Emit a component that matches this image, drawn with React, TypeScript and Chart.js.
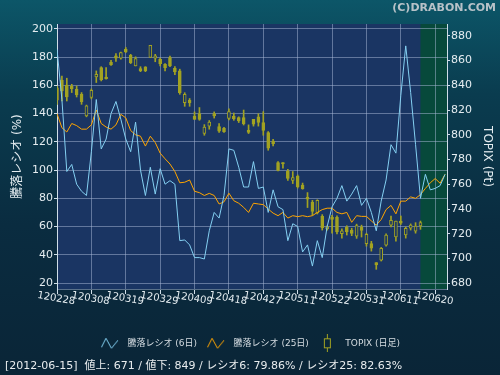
import React, { useEffect, useRef } from "react";
import { Chart, registerables } from "chart.js";
Chart.register(...registerables);

// ---- data ----
const dateLabels = ["120228", "120308", "120319", "120329", "120409", "120418", "120427", "120511", "120522", "120531", "120611", "120620"];
const labelStep = 7;
const forecastStart = 74;
const leftTicks = [20, 40, 60, 80, 100, 120, 140, 160, 180, 200];
const rightTicks = [680, 700, 720, 740, 760, 780, 800, 820, 840, 860, 880];

const ratio6 = [185.6, 150, 99, 104, 90, 85, 82, 113, 150, 115,
  122, 140, 148.6, 136, 122, 113, 134, 100, 82, 102,
  83, 101, 90, 92.5, 90, 50, 50.5, 47, 38, 38,
  37, 57, 70, 66, 82, 115, 114, 102, 88, 88,
  106, 87, 88, 70, 86, 74, 72, 50, 62, 60,
  42, 47, 32, 50, 38, 60, 74, 80, 89, 78,
  83, 89, 75, 80, 70, 57, 78, 93, 118, 112,
  153, 188, 155, 118, 80, 97, 86, 87, 89, 97];

const ratio25 = [140, 130, 127, 133, 131.5, 129, 129, 132, 142.6, 133,
  130.5, 129, 132, 139.5, 137, 128, 125, 124, 117, 124,
  119.5, 112, 108, 104.3, 99, 91, 91.4, 93, 85, 84,
  82, 83.5, 82, 76, 77.5, 83.6, 78.3, 76.5, 73.6, 70,
  76.5, 76, 75.5, 72.4, 69.5, 67.7, 70, 66, 67.7, 67,
  67.7, 67, 67.7, 70, 72, 73, 73, 70, 69, 70,
  63, 67.7, 67.2, 67.2, 64, 61, 65, 72, 75, 69,
  78, 78, 81, 80, 82.6, 87, 91, 94, 90.7, 97];

const topixOpen = [838, 844, 840.2, 839.4, 836.8, 832.7, 815.2, 830.1, 846.7, 854.3,
  846.7, 858.6, 863.7, 861.8, 869.1, 864.2, 855.6, 853.5, 854.8, 862.4,
  861.8, 861, 857, 862.4, 853.7, 851.6, 826, 828, 815.2, 817.1,
  801, 806.9, 817.1, 806.6, 805.3, 813.3, 815, 813.9, 813.9, 803.6,
  812.5, 814.4, 809.9, 801.8, 795, 777.5, 777.5, 770.7, 763.2, 766.7,
  759.4, 749.7, 745.5, 736.8, 734.2, 724, 733.6, 733.3, 720.2, 725.5,
  723, 718.1, 725.5, 712.1, 712.1, 696.7, 698.6, 710.9, 727, 717.4,
  730.3, 719, 724.6, 722.2, 726.3];
const topixClose = [828, 835.4, 830.5, 837.3, 832.2, 826.8, 823.3, 836, 848.9, 844.3,
  845.4, 856.4, 861.8, 866.4, 866.9, 858.3, 861.6, 851.6, 851.6, 872.3,
  863.7, 857.5, 854.3, 855.6, 850.7, 834.1, 832.7, 825.7, 812.5, 812.5,
  806.3, 810.3, 815.2, 803, 802.6, 818.7, 812.8, 811.1, 809, 802,
  808.5, 809.9, 803.6, 789.1, 792.9, 771.3, 776.5, 764.8, 765.4, 757.8,
  756.5, 747.9, 738, 747, 725, 725.8, 731.6, 721.5, 722.3, 721.7,
  720.4, 726.6, 722.8, 719.6, 708.3, 694.8, 708.3, 719, 730.9, 730.3,
  728.5, 724.4, 727, 726.3, 729];
const topixHigh = [839.4, 847.5, 845.7, 840.8, 839.4, 834.1, 824, 837, 851.6, 855,
  854.3, 860.2, 865.6, 866.8, 870.5, 865, 863, 855, 855, 872.3,
  865, 862, 857.5, 863.5, 855, 853, 834, 829.3, 818.5, 822,
  808.2, 811.5, 818.5, 809, 806, 821, 817.6, 814.5, 820, 808,
  812.5, 817, 818.7, 802.6, 796.4, 778.3, 777.5, 772, 770.3, 767.5,
  761, 753.3, 747, 747.5, 735.5, 726.5, 735, 734.5, 724, 726.5,
  724.5, 727.8, 727, 720.5, 713.9, 696.7, 709, 720, 734.4, 730.3,
  734.4, 725.5, 728, 729, 730.3];
const topixLow = [824.6, 827.3, 827.3, 834.1, 830.5, 824.6, 814.5, 829, 842.2, 843.5,
  845, 856, 859.2, 861, 866.4, 857.5, 855.6, 851, 851, 862.4,
  859, 855.6, 851.6, 855, 848.5, 832.7, 823, 823, 812.5, 811.7,
  799.6, 804.5, 813.5, 802, 802, 812, 811.7, 809.9, 807.9, 801,
  807, 807, 799.6, 787.5, 791, 770.7, 773, 763.2, 760.6, 757,
  756, 741.2, 735, 736, 723, 723, 720.5, 720, 716.5, 719,
  718.5, 716.3, 717.4, 710, 706, 691.3, 698, 710, 725.5, 714,
  727.5, 716.5, 723, 720.5, 723.6];

const footerDate = "2012-06-15";
const footerUp = 671;
const footerDown = 849;
const footerR6 = "79.86";
const footerR25 = "82.63";

// ---- style ----
const FONT = '"DejaVu Sans", "Noto Sans CJK JP", sans-serif';
const PLOT_BG = "#1a3563";
const GREEN_BG = "#07493b";
const GRID = "rgba(170,185,215,0.5)";
const AXIS = "#d0dee8";
const TEXT = "#e4ecf0";
const CANDLE = "#a2a222";
const BLUE = "#84d0f2";
const ORANGE = "#ffa500";

function makeZigzag(color: string) {
  const c = document.createElement("canvas");
  c.width = 22; c.height = 14;
  const g = c.getContext("2d")!;
  g.strokeStyle = color; g.lineWidth = 1;
  g.beginPath();
  g.moveTo(0.5, 11); g.lineTo(5, 2); g.lineTo(10.5, 12); g.lineTo(17, 4);
  g.stroke();
  return c;
}
function makeCandleIcon() {
  const c = document.createElement("canvas");
  c.width = 22; c.height = 18;
  const g = c.getContext("2d")!;
  g.strokeStyle = CANDLE; g.lineWidth = 1;
  g.beginPath(); g.moveTo(8.5, 0); g.lineTo(8.5, 18); g.stroke();
  g.fillStyle = "#0a2739";
  g.fillRect(5.5, 4.5, 6, 9);
  g.strokeRect(5.5, 4.5, 6, 9);
  return c;
}

export default function App() {
  const ref = useRef<HTMLCanvasElement>(null);
  useEffect(() => {
    document.body.style.margin = "0";
    const xs = ratio6.map((_, i) => i);
    const tickIdx = dateLabels.map((_, i) => i * labelStep);
    const icon6 = makeZigzag(BLUE);
    const icon25 = makeZigzag(ORANGE);
    const iconC = makeCandleIcon();

    const bgPlugin = {
      id: "bgPlugin",
      beforeDraw(chart: any) {
        const { ctx, chartArea: a, scales } = chart;
        ctx.save();
        const grd = ctx.createLinearGradient(0, 0, 0, chart.height);
        grd.addColorStop(0, "#0c5668");
        grd.addColorStop(0.25, "#0a3c4f");
        grd.addColorStop(0.6, "#0a2c40");
        grd.addColorStop(1, "#0a2537");
        ctx.fillStyle = grd;
        ctx.fillRect(0, 0, chart.width, chart.height);
        ctx.fillStyle = PLOT_BG;
        ctx.fillRect(a.left, a.top, a.right - a.left, a.bottom - a.top);
        const gx = scales.x.getPixelForValue(forecastStart);
        ctx.fillStyle = GREEN_BG;
        ctx.fillRect(gx, a.top, a.right - gx, a.bottom - a.top);
        ctx.restore();
      },
    };

    const chart = new Chart(ref.current!, {
      type: "bar",
      data: {
        datasets: [
          {
            type: "line",
            label: "騰落レシオ (6日)",
            data: xs.map((i) => ({ x: i, y: ratio6[i] })),
            borderColor: BLUE,
            borderWidth: 1,
            pointRadius: 0,
            tension: 0,
            yAxisID: "y",
            order: 0,
          } as any,
          {
            type: "line",
            label: "騰落レシオ (25日)",
            data: xs.map((i) => ({ x: i, y: ratio25[i] })),
            borderColor: ORANGE,
            borderWidth: 1,
            pointRadius: 0,
            tension: 0,
            yAxisID: "y",
            order: 0,
          } as any,
          {
            type: "bar",
            label: "TOPIX (日足)",
            data: topixOpen.map((o, i) => ({ x: i, y: [o, topixClose[i]] })),
            backgroundColor: topixOpen.map((o, i) => (topixClose[i] > o ? PLOT_BG : CANDLE)),
            borderColor: CANDLE,
            borderWidth: 1,
            borderSkipped: false,
            barThickness: 3,
            grouped: false,
            yAxisID: "y2",
            order: 1,
          } as any,
          {
            type: "bar",
            label: "wick",
            data: topixHigh.map((h, i) => ({ x: i, y: [topixLow[i], h] })),
            backgroundColor: CANDLE,
            borderWidth: 0,
            barThickness: 1,
            grouped: false,
            yAxisID: "y2",
            order: 2,
          } as any,
        ],
      },
      options: {
        responsive: false,
        animation: false,
        devicePixelRatio: 1,
        events: [],
        layout: { padding: { left: 5, right: 4, top: 0, bottom: 0 } },
        scales: {
          x: {
            type: "linear",
            min: 0,
            max: 79.4,
            offset: false,
            afterBuildTicks: (s: any) => { s.ticks = tickIdx.map((v) => ({ value: v })); },
            afterFit: (s: any) => { s.height = 39.8; },
            ticks: {
              autoSkip: false,
              minRotation: -10,
              maxRotation: -10,
              labelOffset: 18,
              padding: 2,
              color: TEXT,
              font: { size: 10, family: FONT },
              callback: (_v: any, i: number) => dateLabels[i],
            },
            grid: { color: GRID, tickColor: AXIS, tickLength: 5, offset: false },
            border: { color: GRID },
          },
          y: {
            type: "linear",
            position: "left",
            min: 15.75,
            max: 203.5,
            afterBuildTicks: (s: any) => { s.ticks = leftTicks.map((v) => ({ value: v })); },
            afterFit: (s: any) => { s.width = 52; },
            ticks: { color: TEXT, font: { size: 11, family: FONT }, padding: 1 },
            grid: { color: GRID, tickColor: AXIS, tickLength: 3 },
            border: { color: AXIS },
            title: {
              display: true,
              text: "騰落レシオ (%)",
              color: TEXT,
              font: { size: 12, family: FONT },
              padding: { top: 6, bottom: 0 },
            },
          },
          y2: {
            type: "linear",
            position: "right",
            min: 675.4,
            max: 889.5,
            afterBuildTicks: (s: any) => { s.ticks = rightTicks.map((v) => ({ value: v })); },
            afterFit: (s: any) => { s.width = 49; },
            ticks: { color: TEXT, font: { size: 11, family: FONT }, padding: 1 },
            grid: { drawOnChartArea: false, tickColor: AXIS, tickLength: 3 },
            border: { color: AXIS },
            title: {
              display: true,
              text: "TOPIX (Pt)",
              color: TEXT,
              font: { size: 12, family: FONT },
              padding: { top: 2, bottom: 0 },
            },
          },
        },
        plugins: {
          tooltip: { enabled: false },
          title: {
            display: true,
            text: "(C)DRABON.COM",
            align: "end",
            color: "#b8c2c8",
            font: { size: 11, weight: "bold", family: FONT },
            padding: { top: 2, bottom: 8.8 },
          },
          subtitle: {
            display: true,
            position: "bottom",
            align: "start",
            text: `[${footerDate}]  値上: ${footerUp} / 値下: ${footerDown} / レシオ6: ${footerR6}% / レシオ25: ${footerR25}%`,
            color: "#e8ecee",
            font: { size: 11, family: FONT },
            padding: { top: 2, bottom: 2 },
          },
          legend: {
            display: true,
            position: "bottom",
            labels: {
              usePointStyle: true,
              pointStyleWidth: 22,
              padding: 10,
              color: "#d6dde2",
              font: { size: 9, family: FONT },
              generateLabels: (ch: any) => {
                const icons = [icon6, icon25, iconC];
                return [0, 1, 2].map((d) => ({
                  text: ch.data.datasets[d].label,
                  pointStyle: icons[d],
                  fillStyle: "transparent",
                  strokeStyle: "transparent",
                  lineWidth: 0,
                  hidden: false,
                  datasetIndex: d,
                  fontColor: "#d6dde2",
                }));
              },
            },
          },
        },
      } as any,
      plugins: [bgPlugin],
    });
    return () => chart.destroy();
  }, []);
  return (
    <div style={{ position: "absolute", left: 0, top: 0, width: 500, height: 375 }}>
      <canvas ref={ref} width={500} height={375} />
    </div>
  );
}
